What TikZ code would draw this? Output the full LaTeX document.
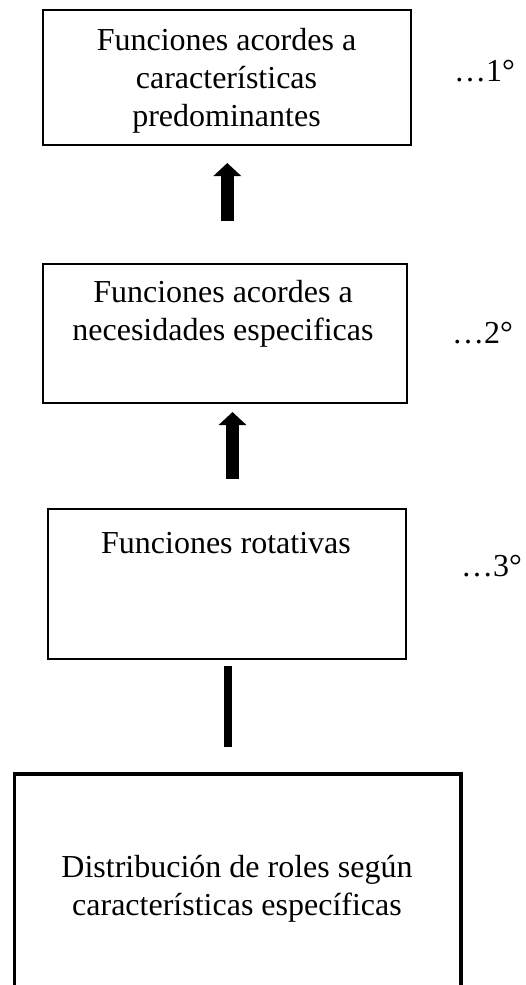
\documentclass[tikz,border=0pt]{standalone}
\usepackage{fontspec}
\setmainfont{Liberation Serif}
\usetikzlibrary{arrows.meta}
\tikzset{
  box/.style={draw=black, line width=2pt, inner sep=0pt},
  bigbox/.style={draw=black, line width=3.5pt, inner sep=0pt},
  txt/.style={font=\fontsize{32}{37.7}\selectfont, align=center, inner sep=0pt, anchor=base},
  lbl/.style={font=\fontsize{32}{37.7}\selectfont, inner sep=0pt, anchor=base west},
  uparrow/.style={line width=13pt, -{Triangle[width=27pt,length=13pt]}},
  stem/.style={line width=8pt}
}
\begin{document}
\begin{tikzpicture}[x=1pt,y=-1pt]
\useasboundingbox (0,0) rectangle (526,985);
% boxes
\node[box, minimum width=368.3pt, minimum height=135pt] (b1) at (226.8,77.5) {};
\node[box, minimum width=364.5pt, minimum height=139.5pt] (b2) at (224.75,333.25) {};
\node[box, minimum width=358pt, minimum height=150pt] (b3) at (227,584) {};
\node[bigbox, minimum width=446.5pt, minimum height=230pt] (b4) at (237.75,889) {};
% texts (anchor = baseline of last line)
\node[txt] (t1) at (226.5,126) {Funciones acordes a\\características\\predominantes};
\node[txt] (t2) at (223,340) {Funciones acordes a\\necesidades especificas};
\node[txt] (t3) at (226,553) {Funciones rotativas};
\node[txt] (t4) at (237,915) {Distribución de roles según\\características específicas};
% order labels
\node[lbl] (l1) at (454,81.5) {…1°};
\node[lbl] (l2) at (452,343) {…2°};
\node[lbl] (l3) at (461,576) {…3°};
% connectors
\coordinate (x1) at (227.3,0);
\coordinate (x2) at (232.5,0);
\coordinate (x3) at (228,0);
\draw[uparrow, shorten <=42pt, shorten >=17pt] (b2.north -| x1) -- (b1.south -| x1);
\draw[uparrow, shorten <=29pt, shorten >=8pt] (b3.north -| x2) -- (b2.south -| x2);
\draw[stem, shorten <=25pt, shorten >=6pt] (b4.north -| x3) -- (b3.south -| x3);
\end{tikzpicture}
\end{document}
